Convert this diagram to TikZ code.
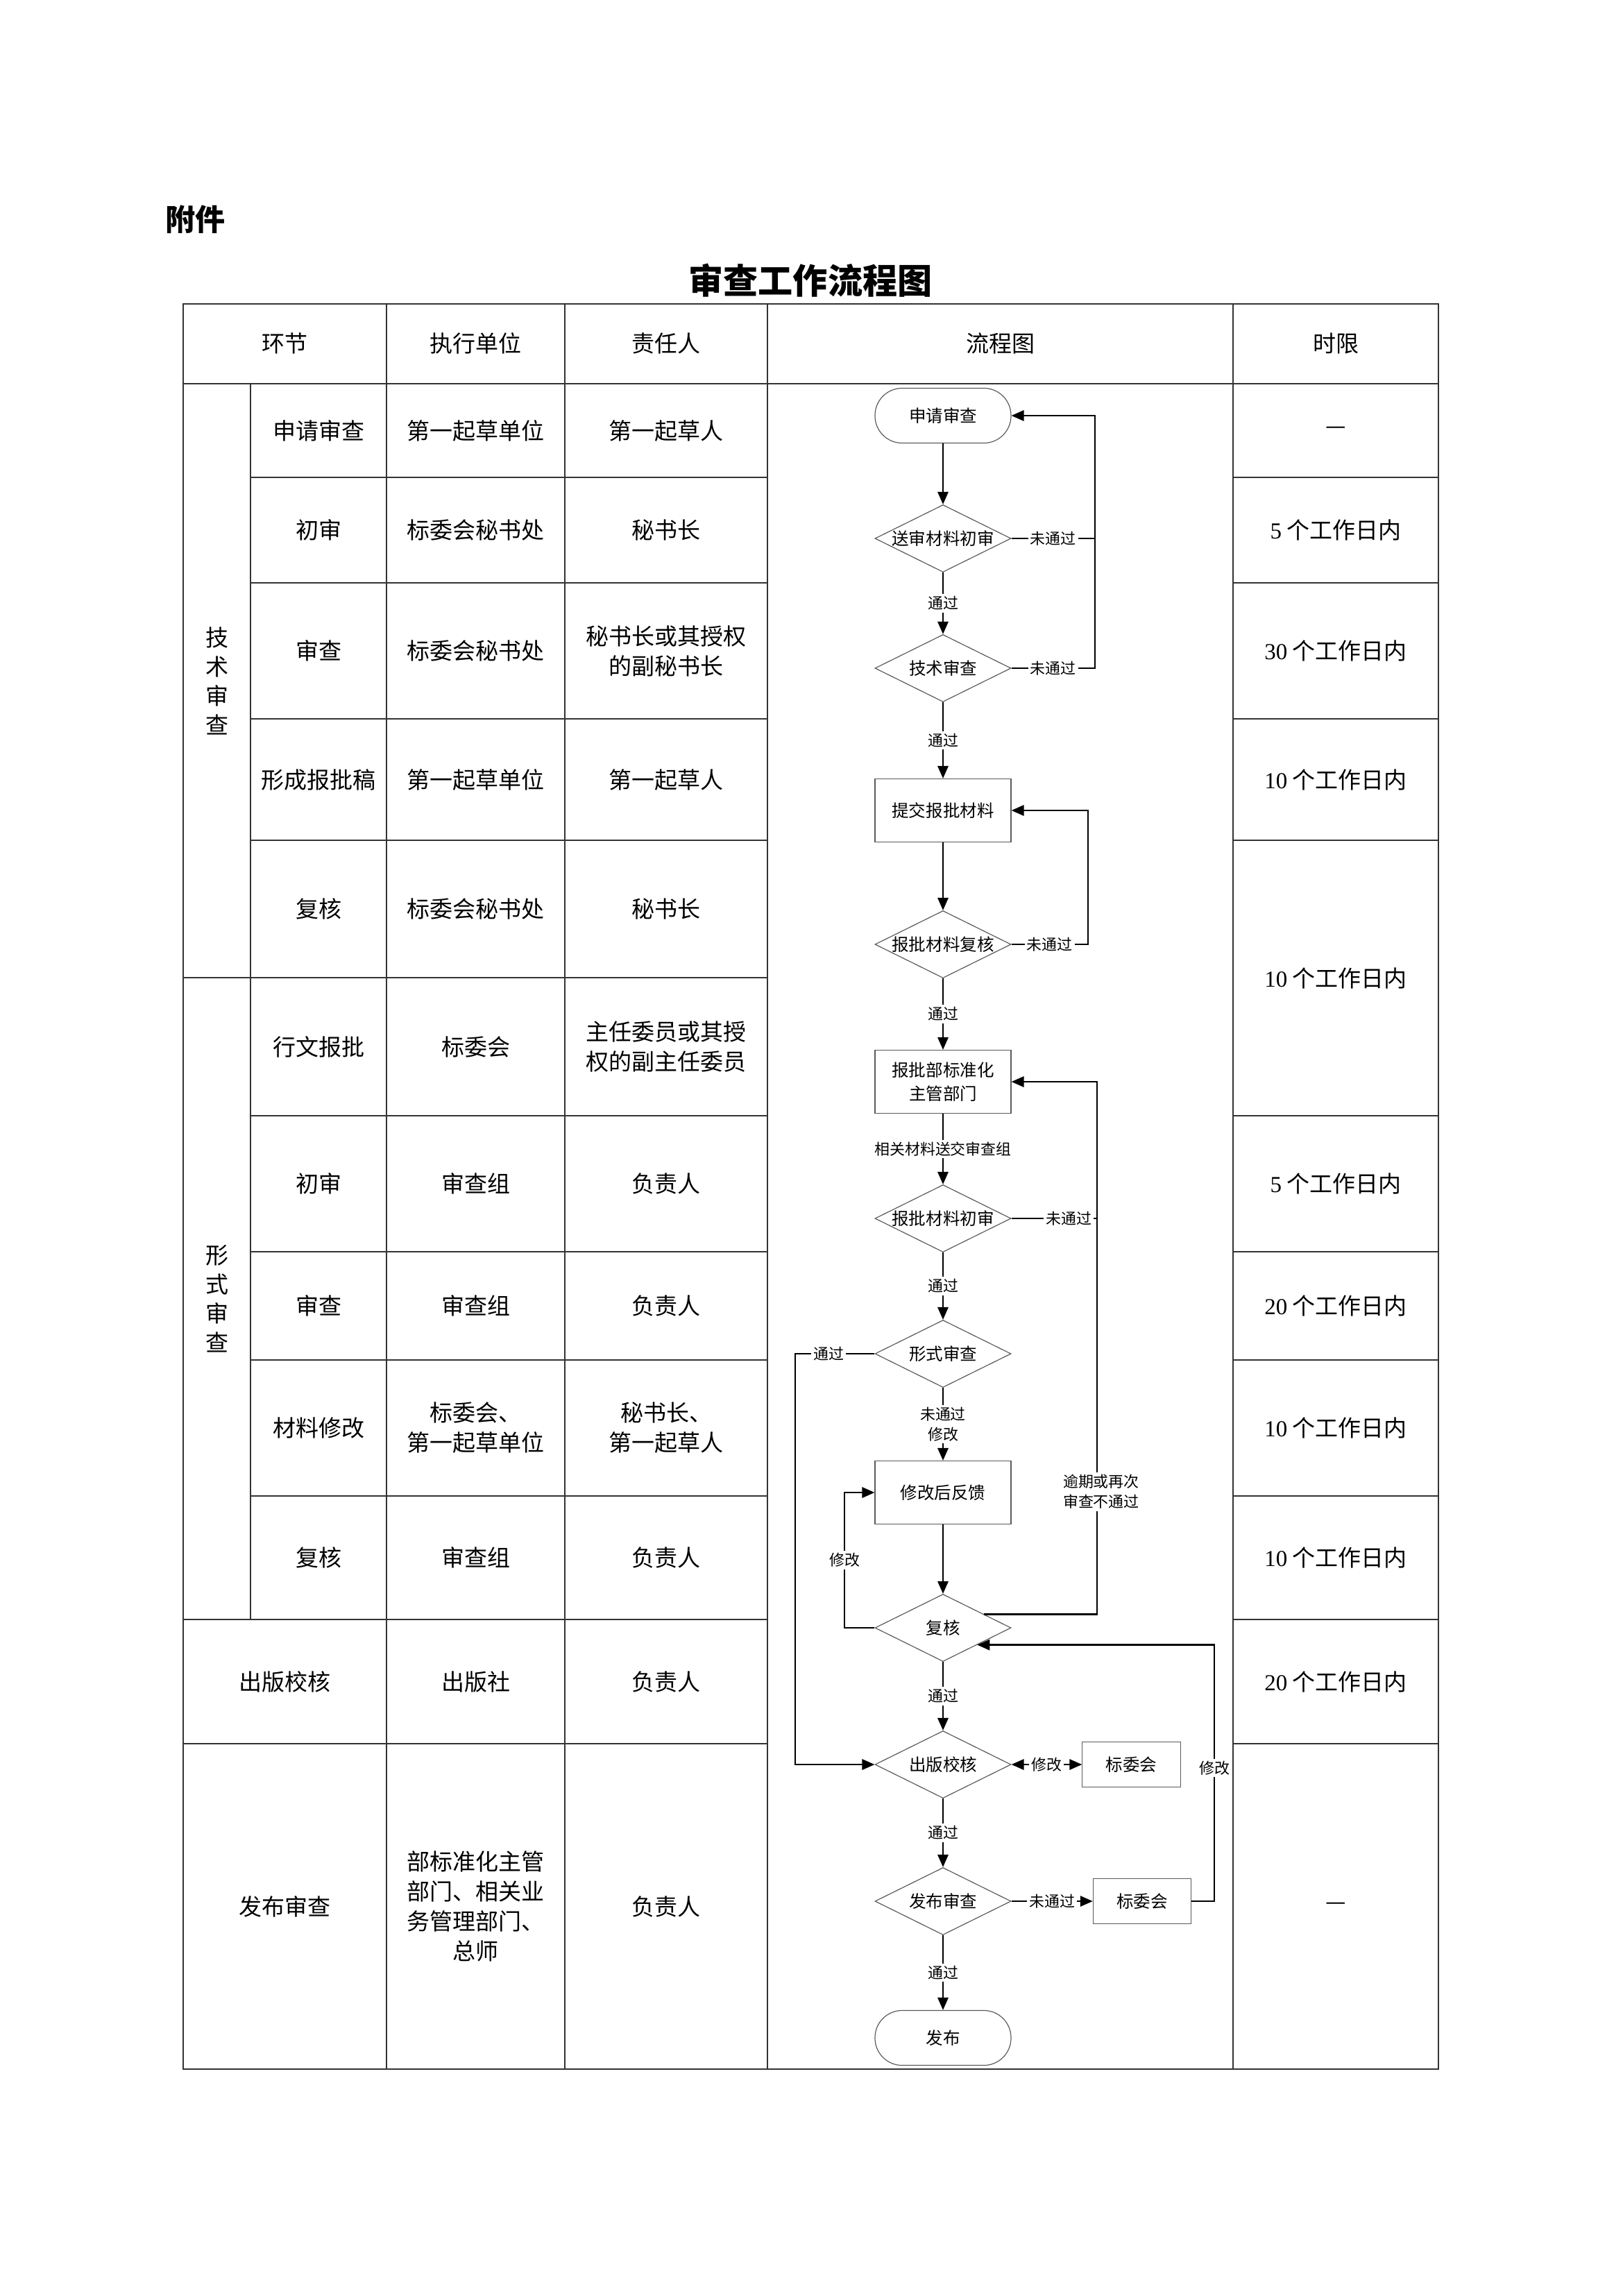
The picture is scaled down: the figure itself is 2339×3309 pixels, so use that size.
\documentclass[tikz,border=0pt]{standalone}
\usepackage{fontspec}
\setmainfont{Noto Sans CJK SC}
\newfontfamily\latin{Liberation Serif}
\usetikzlibrary{arrows.meta,shapes.geometric,calc}
\tikzset{
  tbl/.style={line width=0.5pt, draw=black!80},
  cell/.style={align=center, inner sep=0pt, font=\fontsize{8.43}{11}\selectfont},
  vcell/.style={align=center, inner sep=0pt, font=\fontsize{8.43}{10.73}\selectfont},
  fbox/.style={draw=black!65, line width=0.3pt, inner sep=0pt, align=center, font=\fontsize{6.26}{8.6}\selectfont},
  term/.style={fbox, rectangle, rounded corners=10pt, minimum width=50.07pt, minimum height=20.2pt},
  proc/.style={fbox, rectangle, minimum width=50.07pt, minimum height=23.25pt},
  dec/.style={fbox, diamond, shape aspect=2, minimum width=50.07pt, minimum height=24.78pt},
  sbox/.style={fbox, rectangle, minimum width=36.1pt, minimum height=16.5pt},
  lbl/.style={fill=white, inner sep=0.8pt, align=center, font=\fontsize{5.6}{7.4}\selectfont},
  conn/.style={line width=0.6pt, draw=black},
  arr/.style={conn, -{Triangle[length=4.6pt,width=3.9pt]}},
  darr/.style={conn, {Triangle[length=4.6pt,width=3.9pt]}-{Triangle[length=4.6pt,width=3.9pt]}},
}
\begin{document}
\begin{tikzpicture}[x=0.089782mm, y=-0.089782mm]
\path[use as bounding box, fill=white] (0,0) rectangle (2339,3309);

% headings
\node[anchor=west, inner sep=0pt, font=\fontsize{11}{13}\selectfont\bfseries] (fujian) at (238,316) {附件};
\node[inner sep=0pt, font=\fontsize{12.8}{15}\selectfont\bfseries] (title) at (1168,404) {审查工作流程图};

% table grid
\draw[tbl] (264,438) rectangle (2073,2982);
\foreach \x in {557,814,1106,1777} \draw[tbl] (\x,438) -- (\x,2982);
\draw[tbl] (361,553) -- (361,2334);
\draw[tbl] (264,553) -- (2073,553);
\foreach \y in {688,840,1036,1211,1608,1804,1960,2156} {
  \draw[tbl] (361,\y) -- (1106,\y);
  \draw[tbl] (1777,\y) -- (2073,\y);
}
\draw[tbl] (264,1409) -- (1106,1409);
\foreach \y in {2334,2513} {
  \draw[tbl] (264,\y) -- (1106,\y);
  \draw[tbl] (1777,\y) -- (2073,\y);
}

% header
\node[cell] (h1) at (410.5,495) {环节};
\node[cell] (h2) at (685.5,495) {执行单位};
\node[cell] (h3) at (960,495) {责任人};
\node[cell] (h4) at (1441.5,495) {流程图};
\node[cell] (h5) at (1925,495) {时限};

% group labels
\node[vcell] (gjs) at (312.5,981) {技\\术\\审\\查};
\node[vcell] (gxs) at (312.5,1871.5) {形\\式\\审\\查};

% rows
\node[cell] (a1) at (459,620.5) {申请审查};
\node[cell] (b1t) at (685.5,620.5) {第一起草单位};
\node[cell] (c1) at (960,620.5) {第一起草人};
\node[cell] (t1) at (1925,620.5) {—};

\node[cell] (a2) at (459,764) {初审};
\node[cell] (b2t) at (685.5,764) {标委会秘书处};
\node[cell] (c2) at (960,764) {秘书长};
\node[cell] (t2) at (1925,764) {{\latin 5} 个工作日内};

\node[cell] (a3) at (459,938) {审查};
\node[cell] (b3t) at (685.5,938) {标委会秘书处};
\node[cell] (c3) at (960,938) {秘书长或其授权\\的副秘书长};
\node[cell] (t3) at (1925,938) {{\latin 30} 个工作日内};

\node[cell] (a4) at (459,1123.5) {形成报批稿};
\node[cell] (b4t) at (685.5,1123.5) {第一起草单位};
\node[cell] (c4) at (960,1123.5) {第一起草人};
\node[cell] (t4) at (1925,1123.5) {{\latin 10} 个工作日内};

\node[cell] (a5) at (459,1310) {复核};
\node[cell] (b5t) at (685.5,1310) {标委会秘书处};
\node[cell] (c5) at (960,1310) {秘书长};
\node[cell] (t5) at (1925,1409.5) {{\latin 10} 个工作日内};

\node[cell] (a6) at (459,1508.5) {行文报批};
\node[cell] (b6t) at (685.5,1508.5) {标委会};
\node[cell] (c6) at (960,1508.5) {主任委员或其授\\权的副主任委员};

\node[cell] (a7) at (459,1706) {初审};
\node[cell] (b7t) at (685.5,1706) {审查组};
\node[cell] (c7) at (960,1706) {负责人};
\node[cell] (t7) at (1925,1706) {{\latin 5} 个工作日内};

\node[cell] (a8) at (459,1882) {审查};
\node[cell] (b8t) at (685.5,1882) {审查组};
\node[cell] (c8) at (960,1882) {负责人};
\node[cell] (t8) at (1925,1882) {{\latin 20} 个工作日内};

\node[cell] (a9) at (459,2058) {材料修改};
\node[cell] (b9t) at (685.5,2058) {标委会、\\第一起草单位};
\node[cell] (c9) at (960,2058) {秘书长、\\第一起草人};
\node[cell] (t9) at (1925,2058) {{\latin 10} 个工作日内};

\node[cell] (a10) at (459,2245) {复核};
\node[cell] (b10t) at (685.5,2245) {审查组};
\node[cell] (c10) at (960,2245) {负责人};
\node[cell] (t10) at (1925,2245) {{\latin 10} 个工作日内};

\node[cell] (a11) at (410.5,2423.5) {出版校核};
\node[cell] (b11t) at (685.5,2423.5) {出版社};
\node[cell] (c11) at (960,2423.5) {负责人};
\node[cell] (t11) at (1925,2423.5) {{\latin 20} 个工作日内};

\node[cell] (a12) at (410.5,2747.5) {发布审查};
\node[cell] (b12t) at (685.5,2747.5) {部标准化主管\\部门、相关业\\务管理部门、\\总师};
\node[cell] (c12) at (960,2747.5) {负责人};
\node[cell] (t12) at (1925,2747.5) {—};

% flowchart nodes
\node[term] (start) at (1359,599) {申请审查};
\node[dec] (d1) at (1359,776) {送审材料初审};
\node[dec] (d2) at (1359,963) {技术审查};
\node[proc] (p1) at (1359,1168) {提交报批材料};
\node[dec] (d3) at (1359,1361) {报批材料复核};
\node[proc] (p2) at (1359,1559) {报批部标准化\\主管部门};
\node[dec] (d4) at (1359,1756) {报批材料初审};
\node[dec] (d5) at (1359,1951) {形式审查};
\node[proc] (p3) at (1359,2151) {修改后反馈};
\node[dec] (fuhe) at (1359,2346) {复核};
\node[dec] (d6) at (1359,2543) {出版校核};
\node[sbox] (bw1) at (1630.5,2543) {标委会};
\node[dec] (d7) at (1359,2740) {发布审查};
\node[sbox] (bw2) at (1646,2740) {标委会};
\node[term] (fin) at (1359,2937) {发布};

% helper x positions
\coordinate (xA) at (1578,0);
\coordinate (xB) at (1568,0);
\coordinate (xC) at (1581,0);
\coordinate (xD) at (1146,0);
\coordinate (xE) at (1217,0);
\coordinate (xF) at (1750,0);
\coordinate (fuheR) at ($(fuhe.east)!0.4!(fuhe.north)$);
\coordinate (fuheS) at ($(fuhe.east)!0.5!(fuhe.south)$);

% connectors
\draw[arr] (start.south) -- (d1.north);
\draw[arr] (d1.east) -- node[lbl]{未通过} (d1.east -| xA) |- (start.east);
\draw[conn] (d2.east) -- node[lbl]{未通过} (d2.east -| xA) -- (d1.east -| xA);
\draw[arr] (d1.south) -- node[lbl]{通过} (d2.north);
\draw[arr] (d2.south) -- node[lbl]{通过} (p1.north);
\draw[arr] (p1.south) -- (d3.north);
\draw[arr] (d3.east) -- node[lbl]{未通过} (d3.east -| xB) |- (p1.east);
\draw[arr] (d3.south) -- node[lbl]{通过} (p2.north);
\draw[arr] (p2.south) -- node[lbl]{相关材料送交审查组} (d4.north);
\draw[conn] (d4.east) -- node[lbl, pos=0.67]{未通过} (d4.east -| xC);
\draw[arr] (fuheR) -- (fuheR -| xC) -- node[lbl, pos=0.23, xshift=1.5pt]{逾期或再次\\审查不通过} (p2.east -| xC) -- (p2.east);
\draw[arr] (d4.south) -- node[lbl]{通过} (d5.north);
\draw[arr] (d5.west) -- node[lbl, pos=0.58]{通过} (d5.west -| xD) |- (d6.west);
\draw[arr] (d5.south) -- node[lbl]{未通过\\修改} (p3.north);
\draw[arr] (p3.south) -- (fuhe.north);
\draw[arr] (fuhe.west) -- (fuhe.west -| xE) -- node[lbl]{修改} (p3.west -| xE) -- (p3.west);
\draw[arr] (fuhe.south) -- node[lbl]{通过} (d6.north);
\draw[darr] (d6.east) -- node[lbl]{修改} (bw1.west);
\draw[arr] (d6.south) -- node[lbl]{通过} (d7.north);
\draw[arr] (d7.east) -- node[lbl]{未通过} (bw2.west);
\draw[arr] (bw2.east) -- (bw2.east -| xF) -- node[lbl, pos=0.52]{修改} (fuheS -| xF) -- (fuheS);
\draw[arr] (d7.south) -- node[lbl]{通过} (fin.north);
\end{tikzpicture}
\end{document}
